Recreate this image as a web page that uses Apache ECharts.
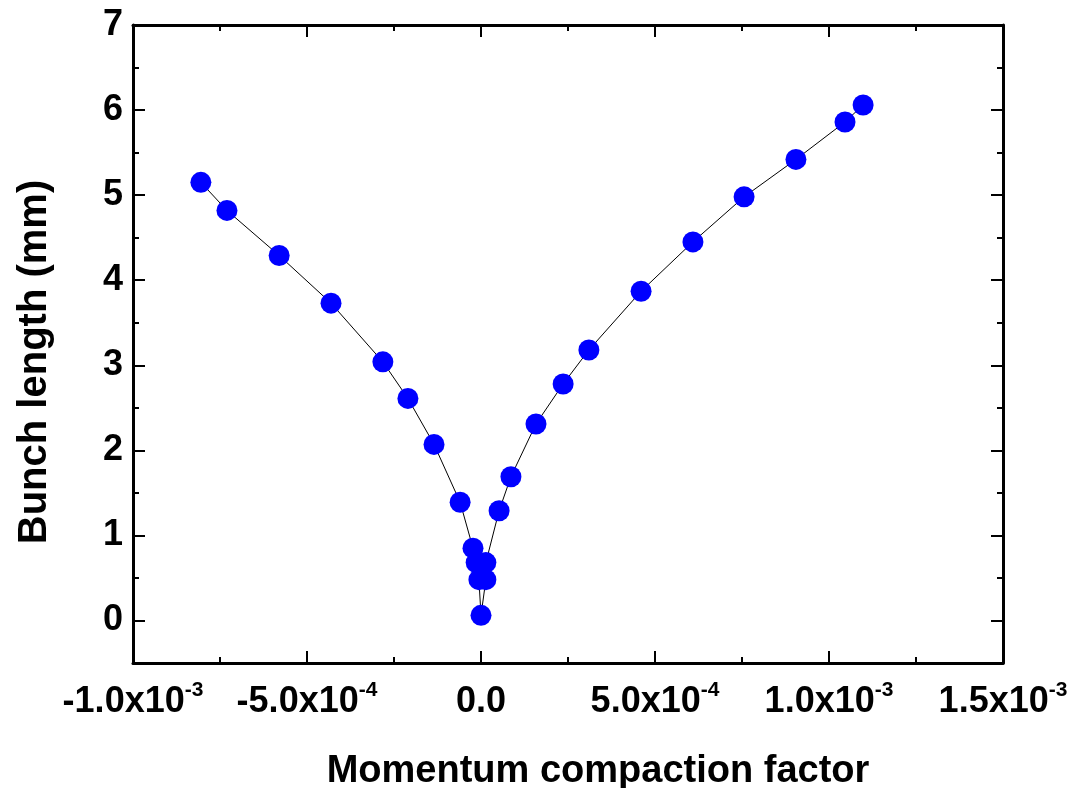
<!DOCTYPE html>
<html>
<head>
<meta charset="utf-8">
<script src="https://cdn.jsdelivr.net/npm/echarts@6.0.0/dist/echarts.min.js"></script>
<style>
html, body { margin: 0; padding: 0; background: #fff; }
#chart { width: 1079px; height: 788px; }
</style>
</head>
<body>
<div id="chart"></div>
<script>
// momentum compaction factor (x) and bunch length in mm (y)
const alphaValues = [
    -0.805e-3, -0.730e-3, -0.580e-3, -0.431e-3, -0.282e-3, -0.210e-3, -0.135e-3,
    -0.060e-3, -0.023e-3, -0.014e-3, -0.006e-3, 0.0, 0.014e-3, 0.014e-3,
    0.052e-3, 0.086e-3, 0.158e-3, 0.236e-3, 0.310e-3, 0.460e-3, 0.609e-3,
    0.756e-3, 0.905e-3, 1.046e-3, 1.098e-3
]
const bunchLength = [
    5.15, 4.82, 4.29, 3.73, 3.04, 2.61, 2.07,
    1.39, 0.85, 0.68, 0.48, 0.06, 0.48, 0.68,
    1.29, 1.69, 2.31, 2.78, 3.18, 3.87, 4.45,
    4.98, 5.42, 5.86, 6.06
]
const xTickLabels = ['-1.0x10|-3', '-5.0x10|-4', '0.0', '5.0x10|-4', '1.0x10|-3', '1.5x10|-3']
const yTicks = [0, 1, 2, 3, 4, 5, 6, 7]
const yMinorTicks = [0.5, 1.5, 2.5, 3.5, 4.5, 5.5, 6.5]

const FONT = '"Liberation Sans", Arial, Helvetica, sans-serif'
const black = '#000'

function xLabel(value, index) {
    let s = xTickLabels[index]
    if (s === undefined) return ''
    let parts = s.split('|')
    if (parts.length === 1) return '{b|' + parts[0] + '}'
    return '{b|' + parts[0] + '}{s|' + parts[1] + '}'
}

let chart = echarts.init(document.getElementById('chart'))

let xBase = {
    type: 'value',
    min: -1.0e-3,
    max: 1.5e-3,
    interval: 5e-4,
    axisLine: { onZero: false, lineStyle: { color: black, width: 3 } },
    axisTick: { inside: true, length: 12, lineStyle: { color: black, width: 2 } },
    minorTick: { show: true, splitNumber: 2, length: 6, lineStyle: { color: black, width: 2 } },
    splitLine: { show: false },
    minorSplitLine: { show: false }
}
let yBase = {
    type: 'value',
    min: -0.5,
    max: 7,
    splitLine: { show: false },
    axisLine: { show: true, onZero: false, lineStyle: { color: black, width: 3 } }
}
// extra axes that only carry the half-unit ticks
let noLine = { show: false, onZero: false }

chart.setOption({
    animation: false,
    backgroundColor: '#fff',
    grid: { left: 133, right: 76, top: 25, bottom: 125, outerBoundsMode: 'none', containLabel: false },
    xAxis: [
        Object.assign({}, xBase, {
            position: 'bottom',
            name: 'Momentum compaction factor',
            nameLocation: 'middle',
            nameGap: 90,
            nameTextStyle: {
                fontFamily: FONT, fontWeight: 'bold', fontSize: 38, color: black,
                padding: [0, 0, 0, 60]
            },
            axisLabel: {
                margin: 17,
                formatter: xLabel,
                rich: {
                    b: { fontFamily: FONT, fontWeight: 'bold', fontSize: 36, color: black, lineHeight: 44 },
                    s: { fontFamily: FONT, fontWeight: 'bold', fontSize: 21, color: black, lineHeight: 21, verticalAlign: 'top' }
                }
            }
        }),
        Object.assign({}, xBase, {
            position: 'top',
            axisLabel: { show: false }
        })
    ],
    yAxis: [
        Object.assign({}, yBase, {
            position: 'left',
            name: 'Bunch length (mm)',
            nameLocation: 'middle',
            nameGap: 78,
            nameTextStyle: {
                fontFamily: FONT, fontWeight: 'bold', fontSize: 40, color: black,
                padding: [0, 36, 0, 0]
            },
            axisLabel: {
                customValues: yTicks,
                margin: 10,
                fontFamily: FONT,
                fontWeight: 'bold',
                fontSize: 36,
                color: black
            },
            axisTick: { show: true, inside: true, customValues: yTicks, length: 12, lineStyle: { color: black, width: 2 } }
        }),
        Object.assign({}, yBase, {
            position: 'left',
            axisLine: noLine,
            axisLabel: { show: false },
            axisTick: { show: true, inside: true, customValues: yMinorTicks, length: 6, lineStyle: { color: black, width: 2 } }
        }),
        Object.assign({}, yBase, {
            position: 'right',
            axisLabel: { show: false },
            axisTick: { show: true, inside: true, customValues: yTicks, length: 12, lineStyle: { color: black, width: 2 } }
        }),
        Object.assign({}, yBase, {
            position: 'right',
            axisLine: noLine,
            axisLabel: { show: false },
            axisTick: { show: true, inside: true, customValues: yMinorTicks, length: 6, lineStyle: { color: black, width: 2 } }
        })
    ],
    series: [{
        type: 'line',
        xAxisIndex: 0,
        yAxisIndex: 0,
        data: alphaValues.map((a, i) => [a, bunchLength[i]]),
        symbol: 'circle',
        symbolSize: 21,
        itemStyle: { color: '#0000ff' },
        lineStyle: { color: black, width: 1 },
        z: 3
    }]
})
</script>
</body>
</html>
